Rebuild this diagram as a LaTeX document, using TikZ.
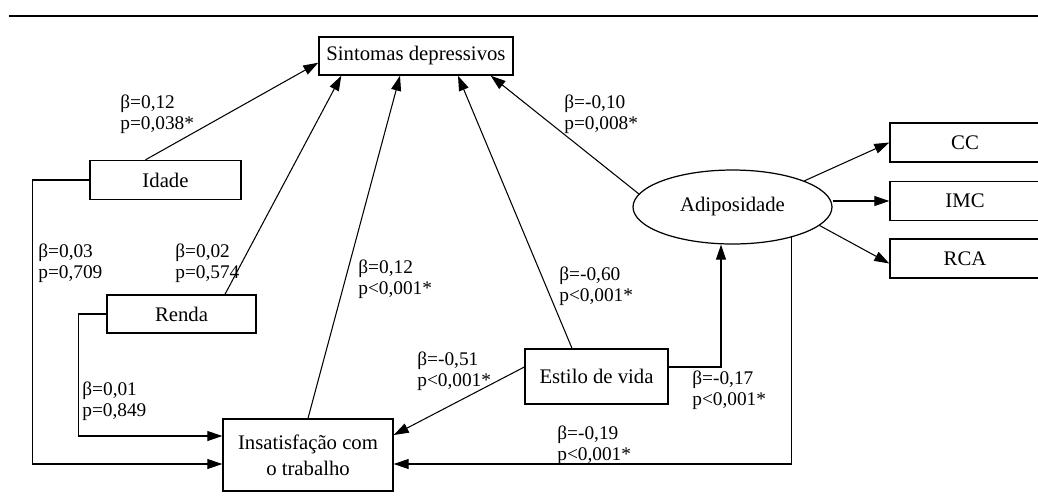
\documentclass[tikz,border=0pt]{standalone}
\usepackage{fontspec}
\setmainfont{Liberation Serif}
\usepackage{tikz}
\usetikzlibrary{shapes, arrows.meta}
\newcommand{\nodefont}{\fontsize{11.8}{15}\selectfont}
\newcommand{\coeffont}{\fontsize{11}{12}\selectfont}
\tikzstyle{block} = [rectangle, draw, line width=0.8pt, font=\nodefont,
    text centered, inner sep=0pt]
\tikzstyle{latent} = [ellipse, draw, line width=0.7pt, font=\nodefont,
    minimum width=3.98cm, minimum height=1.48cm, inner sep=0pt]
\tikzstyle{indic} = [block, minimum width=3cm, minimum height=0.78cm]
\tikzstyle{coef} = [align=left, font=\coeffont, inner sep=0pt, anchor=west]
\tikzstyle{line} = [draw, line width=0.6pt, -{Triangle[length=0.3cm, width=0.2cm]}]
\tikzstyle{plain} = [draw, line width=0.6pt]

\begin{document}
\begin{tikzpicture}[x=0.02cm, y=-0.02cm]
        \useasboundingbox (0,0) rectangle (1038,495);
        \draw [line width=1pt] (9,16) -- (1038,16);
        % Place nodes
        \node [block, minimum width=3.88cm, minimum height=0.76cm] (sintomas) at (416,56) {Sintomas depressivos};
        \node [block, minimum width=3.02cm, minimum height=0.78cm] (idade) at (165.5,180) {Idade};
        \node [block, minimum width=2.98cm, minimum height=0.76cm] (renda) at (181.5,314) {Renda};
        \node [block, minimum width=3.4cm, minimum height=1.44cm, align=center] (insat) at (308,455)
            {Insatisfação com\\o trabalho};
        \node [block, minimum width=2.86cm, minimum height=1.1cm] (estilo) at (596.5,376.5) {Estilo de vida};
        \node [latent] (adip) at (732.5,207) {Adiposidade};
        \node [indic] (imc) at (965,201) {IMC};
        \node [indic, above of=imc, node distance=1.17cm] (cc) {CC};
        \node [indic, below of=imc, node distance=1.15cm] (rca) {RCA};
        % Coefficients
        \node [coef] (c_idade) at (120,114) {β=0,12\\p=0,038*};
        \node [coef] (c_adip) at (564,114) {β=-0,10\\p=0,008*};
        \node [coef] (c_idins) at (38,263) {β=0,03\\p=0,709};
        \node [coef] (c_renda) at (175,263) {β=0,02\\p=0,574};
        \node [coef] (c_insat) at (358,279) {β=0,12\\p<0,001*};
        \node [coef] (c_estilo) at (559,286) {β=-0,60\\p<0,001*};
        \node [coef] (c_estins) at (417,371) {β=-0,51\\p<0,001*};
        \node [coef] (c_estad) at (692,390) {β=-0,17\\p<0,001*};
        \node [coef] (c_adins) at (557,445) {β=-0,19\\p<0,001*};
        \node [coef] (c_renins) at (82,401) {β=0,01\\p=0,849};
        % Draw edges
        \path [line] ([xshift=-0.4cm]idade.north) -- ([yshift=0.26cm]sintomas.south west);
        \path [line] ([xshift=0.87cm]renda.north) -- ([xshift=0.46cm]sintomas.south west);
        \path [line] (insat.north) -- ([xshift=-0.32cm]sintomas.south);
        \path [line] ([xshift=-0.49cm]estilo.north) -- ([xshift=0.84cm]sintomas.south);
        \path [line] (adip.172) -- ([xshift=-0.46cm]sintomas.south east);
        \path [line] (adip.20) -- (cc.west);
        \path [line] (adip.east |- imc.west) -- (imc.west);
        \path [line] (adip.-12) -- ([yshift=-0.1cm]rca.west);
        \path [line] ([yshift=0.19cm]estilo.east) -| ([xshift=-0.23cm]adip.south);
        \path [line] (adip.-27) |- ([yshift=-0.18cm]insat.east);
        \path [line] ([yshift=0.19cm]estilo.west) -- ([yshift=0.4cm]insat.east);
        \path [line] (idade.west) -- ++(-57,0) |- ([yshift=-0.18cm]insat.west);
        \path [line] (renda.west) -- ++(-28,0) |- ([yshift=0.38cm]insat.west);
    \end{tikzpicture}
\end{document}
